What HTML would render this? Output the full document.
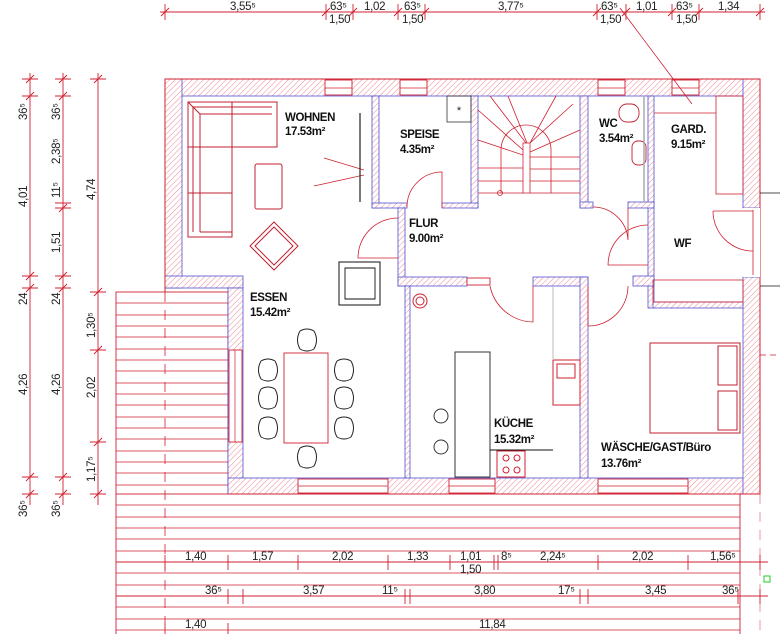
<!DOCTYPE html>
<html><head><meta charset="utf-8"><style>
html,body{margin:0;padding:0;background:#fff;}
svg{display:block;}
text{font-family:"Liberation Sans",sans-serif;}
.lb{font-size:11.5px;font-weight:bold;fill:#111;letter-spacing:-0.4px;}
.dm{font-size:11.5px;fill:#222;letter-spacing:-0.3px;}
</style></head><body>
<svg width="780" height="634" viewBox="0 0 780 634" xmlns="http://www.w3.org/2000/svg">
<defs>
<pattern id="h" patternUnits="userSpaceOnUse" width="4" height="4" patternTransform="rotate(45)">
<rect width="4" height="4" fill="#fff"/><line x1="0" y1="0" x2="0" y2="4" stroke="#ec8894" stroke-width="1"/>
</pattern>
<g id="ch"><path d="M-7,-9 Q-12,0 -7,9 M7,-9 Q12,0 7,9 M-7,-9 Q0,-13 7,-9 M-7,9 Q0,13 7,9" fill="none" stroke="#222" stroke-width="1"/></g>
</defs>

<!-- terrace -->
<g stroke="#d02030" stroke-width="0.9">
<rect x="116" y="292" width="112" height="202" fill="none"/>
<line x1="116" y1="494" x2="116" y2="634"/>
<line x1="740" y1="494" x2="740" y2="634"/>
</g>
<g stroke="#d02030" stroke-width="0.8">
<line x1="116" y1="303" x2="228" y2="303"/><line x1="116" y1="315" x2="228" y2="315"/><line x1="116" y1="326" x2="228" y2="326"/><line x1="116" y1="337" x2="228" y2="337"/><line x1="116" y1="349" x2="228" y2="349"/><line x1="116" y1="360" x2="228" y2="360"/><line x1="116" y1="371" x2="228" y2="371"/><line x1="116" y1="383" x2="228" y2="383"/><line x1="116" y1="394" x2="228" y2="394"/><line x1="116" y1="405" x2="228" y2="405"/><line x1="116" y1="417" x2="228" y2="417"/><line x1="116" y1="428" x2="228" y2="428"/><line x1="116" y1="439" x2="228" y2="439"/><line x1="116" y1="451" x2="228" y2="451"/><line x1="116" y1="462" x2="228" y2="462"/><line x1="116" y1="473" x2="228" y2="473"/><line x1="116" y1="485" x2="228" y2="485"/>
<line x1="116" y1="505" x2="740" y2="505"/><line x1="116" y1="517" x2="740" y2="517"/><line x1="116" y1="528" x2="740" y2="528"/><line x1="116" y1="539" x2="740" y2="539"/><line x1="116" y1="551" x2="740" y2="551"/><line x1="116" y1="562" x2="740" y2="562"/><line x1="116" y1="573" x2="740" y2="573"/><line x1="116" y1="585" x2="740" y2="585"/><line x1="116" y1="596" x2="740" y2="596"/><line x1="116" y1="607" x2="740" y2="607"/><line x1="116" y1="619" x2="740" y2="619"/><line x1="116" y1="630" x2="740" y2="630"/>
<line x1="165" y1="292" x2="165" y2="634" stroke-dasharray="10,8"/>
<line x1="760" y1="494" x2="760" y2="634" stroke-dasharray="10,8" stroke="#e08090"/>
</g>

<!-- walls -->
<g fill="url(#h)" stroke="#5050d0" stroke-width="0.8">
<rect x="165" y="79" width="595" height="17"/>
<rect x="165" y="79" width="17" height="209"/>
<rect x="165" y="276" width="78" height="12"/>
<rect x="228" y="288" width="15" height="206"/>
<rect x="228" y="478" width="532" height="16"/>
<rect x="743" y="79" width="17" height="129"/>
<rect x="743" y="277" width="17" height="217"/>
<rect x="372" y="96" width="7" height="112"/>
<rect x="471" y="96" width="7" height="112"/>
<rect x="372" y="203" width="35" height="5"/>
<rect x="442" y="203" width="36" height="5"/>
<rect x="580" y="96" width="8" height="112"/>
<rect x="648" y="96" width="6" height="212"/>
<rect x="580" y="202" width="13" height="6"/>
<rect x="628" y="202" width="26" height="6"/>
<rect x="398" y="208" width="7" height="78"/>
<rect x="398" y="277" width="69" height="9"/>
<rect x="533" y="277" width="55" height="9"/>
<rect x="580" y="277" width="8" height="201"/>
<rect x="633" y="276" width="21" height="10"/>
<rect x="653" y="302" width="90" height="6"/>
<rect x="405" y="286" width="5" height="192"/>
</g>
<g stroke="#d02030" stroke-width="1" fill="none">
<path d="M165,292 V79 H760 V494 H228"/>
</g>
<!-- windows -->
<g fill="#fff" stroke="#d02030" stroke-width="0.9">
<rect x="325" y="80" width="27" height="15"/><rect x="400" y="80" width="27" height="15"/>
<rect x="598" y="80" width="27" height="15"/><rect x="672" y="80" width="27" height="15"/>
<rect x="229" y="350" width="13" height="92"/>
<rect x="298" y="479" width="90" height="14"/><rect x="449" y="479" width="46" height="14"/><rect x="598" y="479" width="90" height="14"/>
<rect x="467" y="278" width="23" height="7"/>
</g>
<g stroke="#d02030" stroke-width="0.7">
<line x1="325" y1="88" x2="352" y2="88"/><line x1="400" y1="88" x2="427" y2="88"/><line x1="598" y1="88" x2="625" y2="88"/><line x1="672" y1="88" x2="699" y2="88"/>
<line x1="235" y1="350" x2="235" y2="442"/><line x1="298" y1="486" x2="388" y2="486"/><line x1="449" y1="486" x2="495" y2="486"/><line x1="598" y1="486" x2="688" y2="486"/>
</g>
<!-- right wall door gap -->
<rect x="743" y="208" width="17" height="69" fill="#fff"/>
<g stroke="#d02030" stroke-width="0.8" fill="none">
<line x1="753" y1="210" x2="753" y2="275"/>
<path d="M713,211 L753,211 M713,211 A40,40 0 0 0 753,251"/>
<line x1="760" y1="193" x2="780" y2="193" stroke="#111"/>
<line x1="760" y1="286" x2="780" y2="286" stroke="#111"/>
<line x1="760" y1="355" x2="780" y2="355" stroke-dasharray="6,4"/>
</g>

<!-- doors -->
<g stroke="#d02030" stroke-width="0.8" fill="none">
<path d="M442,208 L442,172 A35,35 0 0 0 407,207"/>
<path d="M628,208 L628,240 M593,207 A35,35 0 0 1 628,240"/>
<path d="M398,218 A40,40 0 0 0 358,258 L398,258"/>
<path d="M648,225 A40,40 0 0 0 608,265 L648,265"/>
<path d="M490,286 A45,45 0 0 0 533,322 L533,286"/>
<path d="M588,286 L588,326 A40,40 0 0 0 628,286"/>
<line x1="620" y1="8" x2="692" y2="104"/>
<path d="M324,158 L364,170 M314,186 L364,175"/>
<line x1="654" y1="113" x2="716" y2="113"/>
<rect x="716" y="96" width="27" height="98"/>
<rect x="653" y="280" width="90" height="22" stroke-width="0.8"/>
</g>
<line x1="360" y1="113" x2="360" y2="202" stroke="#222" stroke-width="1.2"/>

<!-- sofa -->
<g stroke="#c02030" stroke-width="1" fill="none">
<path d="M188,102 H277 V147 H232 V237 H188 Z"/>
<path d="M193,107 H272 M193,107 V232 M200,114 H272 M200,114 V232 M188,102 L200,114 M232,102 V147 M188,147 H232 M188,193 H232 M200,232 H232"/>
<rect x="255" y="164" width="27" height="45" rx="2"/>
<path d="M274,222 L298,246 L274,270 L250,246 Z M274,227 L293,246 L274,265 L255,246 Z"/>
</g>
<!-- oven -->
<rect x="339" y="262" width="41" height="43" fill="none" stroke="#111" stroke-width="1"/>
<path d="M345,268 H375 V299 H345 Z" fill="none" stroke="#111" stroke-width="0.9"/>
<!-- speise shelf -->
<rect x="447" y="96" width="24" height="26" fill="none" stroke="#333" stroke-width="0.8"/>
<text x="459" y="114" font-size="11" text-anchor="middle" fill="#222">*</text>
<!-- stairs -->
<g stroke="#d02030" stroke-width="0.8" fill="none">
<rect x="523" y="143" width="7" height="50"/>
<path d="M478,193 H523 M478,181 H523 M478,168 H523 M530,157 H580 M530,169 H580 M530,181 H580 M530,193 H580"/>
<path d="M478,110 L523,150 M490,96 L526,143 M508,96 L527,143 M530,143 L556,96 M530,143 L573,104 M530,152 L580,130 M478,140 L523,155"/>
<path d="M501,193 V150 A25,25 0 0 1 551,150 V193"/>
<circle cx="500" cy="193" r="2.5"/>
</g>
<!-- WC -->
<g stroke="#c02030" stroke-width="0.9" fill="none">
<rect x="619" y="104" width="20" height="18" rx="8"/>
<rect x="632" y="141" width="14" height="24" rx="6"/>
</g>
<line x1="644" y1="96" x2="644" y2="202" stroke="#aaa" stroke-width="1.5"/>
<!-- dining -->
<rect x="284" y="353" width="44" height="90" fill="none" stroke="#d02030" stroke-width="0.9"/>
<use href="#ch" x="307" y="340"/><use href="#ch" x="307" y="457"/>
<use href="#ch" x="268" y="370"/><use href="#ch" x="268" y="398"/><use href="#ch" x="268" y="428"/>
<use href="#ch" x="344" y="370"/><use href="#ch" x="344" y="398"/><use href="#ch" x="344" y="428"/>
<!-- kitchen -->
<g fill="none" stroke-width="1">
<rect x="455" y="352" width="35" height="125" stroke="#333"/>
<line x1="490" y1="450" x2="553" y2="450" stroke="#111"/>
<rect x="497" y="451" width="28" height="26" stroke="#d02030"/>
<circle cx="506" cy="458" r="3" stroke="#d02030"/><circle cx="517" cy="458" r="3" stroke="#d02030"/>
<circle cx="506" cy="470" r="3" stroke="#d02030"/><circle cx="517" cy="470" r="3" stroke="#d02030"/>
<rect x="553" y="360" width="27" height="45" stroke="#d02030"/>
<rect x="557" y="364" width="18" height="14" stroke="#d02030"/>
<circle cx="441" cy="416" r="7" stroke="#333"/><circle cx="441" cy="447" r="7" stroke="#333"/>
<circle cx="420" cy="301" r="7" stroke="#d02030"/><circle cx="420" cy="301" r="4" stroke="#d02030"/>
<line x1="553" y1="286" x2="553" y2="360" stroke="#bbb"/>
</g>
<!-- bed -->
<g fill="none" stroke="#c02030" stroke-width="1">
<rect x="650" y="343" width="90" height="90"/>
<rect x="718" y="346" width="19" height="39"/><rect x="718" y="391" width="19" height="39"/>
</g>

<!-- labels -->
<text class="lb" x="285" y="121">WOHNEN</text><text class="lb" x="285" y="135">17.53m²</text>
<text class="lb" x="400" y="138">SPEISE</text><text class="lb" x="400" y="153">4.35m²</text>
<text class="lb" x="599" y="127">WC</text><text class="lb" x="599" y="142">3.54m²</text>
<text class="lb" x="671" y="133">GARD.</text><text class="lb" x="671" y="148">9.15m²</text>
<text class="lb" x="409" y="227">FLUR</text><text class="lb" x="409" y="242">9.00m²</text>
<text class="lb" x="674" y="247">WF</text>
<text class="lb" x="250" y="301">ESSEN</text><text class="lb" x="250" y="316">15.42m²</text>
<text class="lb" x="494" y="427">KÜCHE</text><text class="lb" x="494" y="443">15.32m²</text>
<text class="lb" x="601" y="451">WÄSCHE/GAST/Büro</text><text class="lb" x="601" y="467">13.76m²</text>

<!-- top dimensions -->
<g stroke="#d02030" stroke-width="0.9">
<line x1="160" y1="12" x2="765" y2="12"/>
<path d="M165,4 V20 M326,4 V20 M353,4 V20 M398,4 V20 M425,4 V20 M597,4 V20 M626,4 V20 M672,4 V20 M699,4 V20 M760,4 V20"/>
<path d="M161,16 L169,8 M322,16 L330,8 M349,16 L357,8 M394,16 L402,8 M421,16 L429,8 M593,16 L601,8 M622,16 L630,8 M668,16 L676,8 M695,16 L703,8 M756,16 L764,8"/>
</g>
<g>
<text class="dm" x="230" y="10">3,55⁵</text><text class="dm" x="330" y="10">63⁵</text><text class="dm" x="364" y="10">1,02</text>
<text class="dm" x="404" y="10">63⁵</text><text class="dm" x="498" y="10">3,77⁵</text><text class="dm" x="601" y="10">63⁵</text>
<text class="dm" x="636" y="10">1,01</text><text class="dm" x="676" y="10">63⁵</text><text class="dm" x="718" y="10">1,34</text>
<text class="dm" x="329" y="23">1,50</text><text class="dm" x="402" y="23">1,50</text><text class="dm" x="600" y="23">1,50</text><text class="dm" x="676" y="23">1,50</text>
</g>

<!-- left dimensions -->
<g stroke="#d02030" stroke-width="0.9">
<line x1="30" y1="73" x2="30" y2="505"/><line x1="63" y1="73" x2="63" y2="505"/><line x1="98" y1="73" x2="98" y2="505"/>
<path d="M22,79 H38 M22,96 H38 M22,276 H38 M22,288 H38 M22,477 H38 M22,494 H38"/>
<path d="M55,79 H71 M55,96 H71 M55,203 H71 M55,208 H71 M55,276 H71 M55,288 H71 M55,477 H71 M55,494 H71"/>
<path d="M90,79 H106 M90,292 H106 M90,350 H106 M90,442 H106 M90,494 H106"/>
<path d="M26,83 L34,75 M26,100 L34,92 M26,280 L34,272 M26,292 L34,284 M26,481 L34,473 M26,498 L34,490 M59,83 L67,75 M59,100 L67,92 M59,212 L67,204 M59,280 L67,272 M59,292 L67,284 M59,481 L67,473 M59,498 L67,490 M94,83 L102,75 M94,296 L102,288 M94,354 L102,346 M94,446 L102,438 M94,498 L102,490"/>
</g>
<g>
<text class="dm" transform="translate(27,120) rotate(-90)">36⁵</text>
<text class="dm" transform="translate(27,207) rotate(-90)">4,01</text>
<text class="dm" transform="translate(27,305) rotate(-90)">24</text>
<text class="dm" transform="translate(27,395) rotate(-90)">4,26</text>
<text class="dm" transform="translate(27,517) rotate(-90)">36⁵</text>
<text class="dm" transform="translate(60,120) rotate(-90)">36⁵</text>
<text class="dm" transform="translate(60,164) rotate(-90)">2,38⁵</text>
<text class="dm" transform="translate(60,198) rotate(-90)">11⁵</text>
<text class="dm" transform="translate(60,253) rotate(-90)">1,51</text>
<text class="dm" transform="translate(60,305) rotate(-90)">24</text>
<text class="dm" transform="translate(60,395) rotate(-90)">4,26</text>
<text class="dm" transform="translate(60,517) rotate(-90)">36⁵</text>
<text class="dm" transform="translate(95,200) rotate(-90)">4,74</text>
<text class="dm" transform="translate(95,338) rotate(-90)">1,30⁵</text>
<text class="dm" transform="translate(95,398) rotate(-90)">2,02</text>
<text class="dm" transform="translate(95,482) rotate(-90)">1,17⁵</text>
</g>

<!-- bottom dimensions -->
<g stroke="#d02030" stroke-width="0.9">
<line x1="116" y1="562" x2="768" y2="562"/>
<path d="M165,555 V570 M228,555 V570 M298,555 V570 M388,555 V570 M450,555 V570 M494,555 V570 M498,555 V570 M598,555 V570 M688,555 V570 M760,555 V570"/>
<line x1="116" y1="596" x2="768" y2="596"/>
<path d="M228,589 V604 M243,589 V604 M405,589 V604 M410,589 V604 M580,589 V604 M588,589 V604 M738,589 V604 M760,589 V604"/>
<path d="M165,623 V634 M228,623 V634"/>
</g>
<g>
<text class="dm" x="185" y="560">1,40</text><text class="dm" x="252" y="560">1,57</text><text class="dm" x="332" y="560">2,02</text>
<text class="dm" x="407" y="560">1,33</text><text class="dm" x="460" y="560">1,01</text><text class="dm" x="501" y="560">8⁵</text>
<text class="dm" x="540" y="560">2,24⁵</text><text class="dm" x="632" y="560">2,02</text><text class="dm" x="710" y="560">1,56⁵</text>
<text class="dm" x="460" y="573">1,50</text>
<text class="dm" x="205" y="594">36⁵</text><text class="dm" x="303" y="594">3,57</text><text class="dm" x="382" y="594">11⁵</text>
<text class="dm" x="474" y="594">3,80</text><text class="dm" x="558" y="594">17⁵</text><text class="dm" x="645" y="594">3,45</text>
<text class="dm" x="722" y="594">36⁵</text>
<text class="dm" x="185" y="628">1,40</text><text class="dm" x="479" y="628">11,84</text>
</g>
<rect x="764" y="576" width="6" height="6" fill="none" stroke="#2c2" stroke-width="1"/>
</svg>
</body></html>
